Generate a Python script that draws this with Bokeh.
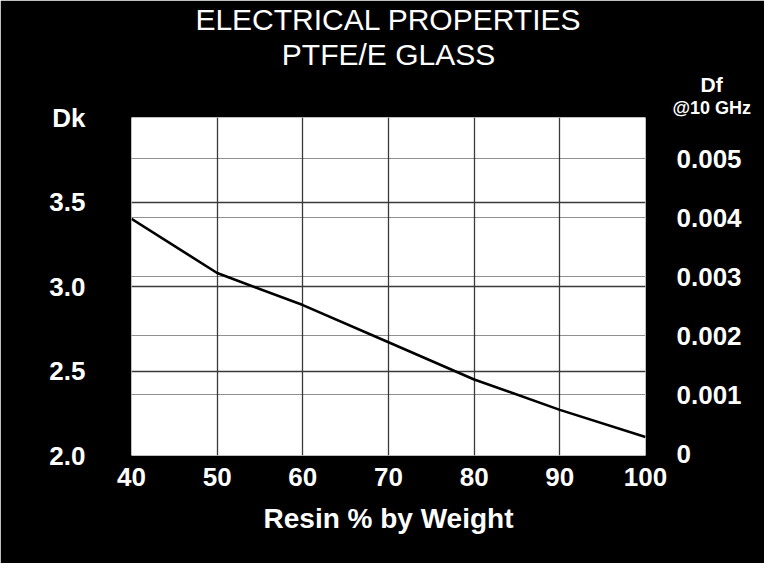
from bokeh.plotting import figure
from bokeh.models import (Range1d, FixedTicker, Grid, Title,
                          LinearAxis, CustomJSTickFormatter)
from bokeh.embed import file_html
from bokeh.resources import INLINE

# ---- data ----
resin = [40, 50, 60, 70, 80, 90, 100]
dk = [3.40, 3.08, 2.89, 2.67, 2.45, 2.27, 2.11]

x_ticks = [40, 50, 60, 70, 80, 90, 100]
dk_ticks = [2.0, 2.5, 3.0, 3.5]
df_ticks = [0.0, 0.001, 0.002, 0.003, 0.004, 0.005]

title1 = "ELECTRICAL PROPERTIES"
title2 = "PTFE/E GLASS"
xlabel = "Resin % by Weight"
dk_label = "Dk"
df_label = "Df"
df_freq = "@10 GHz"

W, H = 764, 563
BL, BR, BT, BB = 131, 119, 114, 108   # borders around the frame
X0, X1 = 40, 100
Y0, Y1 = 2.0, 4.0

p = figure(width=W, height=H, output_backend="svg", toolbar_location=None,
           x_range=Range1d(X0, X1), y_range=Range1d(Y0, Y1),
           min_border_left=BL, min_border_right=BR,
           min_border_top=BT, min_border_bottom=BB,
           background_fill_color="white", border_fill_color="black",
           outline_line_color=None, x_axis_location=None, y_axis_location=None)
p.extra_y_ranges = {"df": Range1d(-0.00003, 0.0057)}

# solid grids
p.xgrid.ticker = FixedTicker(ticks=[50, 60, 70, 80, 90])
p.ygrid.ticker = FixedTicker(ticks=[2.5, 3.0, 3.5])
for g in (p.xgrid, p.ygrid):
    g.grid_line_color = "#3a3a3a"
    g.grid_line_width = 1.3
    g.grid_line_alpha = 1.0

def style(ax, size="26px"):
    ax.axis_line_color = None
    ax.major_tick_line_color = None
    ax.minor_tick_line_color = None
    ax.major_tick_out = 0
    ax.major_tick_in = 0
    ax.major_label_text_color = "white"
    ax.major_label_text_font = "Liberation Sans"
    ax.major_label_text_font_style = "bold"
    ax.major_label_text_font_size = size
    ax.axis_label_text_color = "white"
    ax.axis_label_text_font = "Liberation Sans"
    ax.axis_label_text_font_style = "bold"
    ax.axis_label_text_font_size = size

# bottom axis
xax = LinearAxis(ticker=FixedTicker(ticks=x_ticks), axis_label=xlabel)
style(xax)
xax.axis_label_text_font_size = "28px"
xax.major_label_standoff = 12
xax.axis_label_standoff = 14
p.add_layout(xax, "below")

# left Dk axis; its top end carries the "Dk" heading
yax = LinearAxis(ticker=FixedTicker(ticks=dk_ticks + [Y1]),
                 formatter=CustomJSTickFormatter(
                     code="return tick >= %r ? %r : tick.toFixed(1);"
                          % (Y1, dk_label)))
style(yax)
yax.major_label_standoff = 46
p.add_layout(yax, "left")

# right Df axis
rax = LinearAxis(y_range_name="df", ticker=FixedTicker(ticks=df_ticks),
                 formatter=CustomJSTickFormatter(
                     code="return tick == 0 ? '0' : tick.toFixed(3);"))
style(rax)
rax.major_label_standoff = 31
p.add_layout(rax, "right")

# dotted Df grid
dgrid = Grid(dimension=1, y_range_name="df",
             ticker=FixedTicker(ticks=df_ticks[1:]),
             grid_line_color="#202020", grid_line_width=1.0,
             grid_line_dash="1 1")
p.add_layout(dgrid)

# the curve
p.line(resin, dk, line_color="black", line_width=2.6)

# headings above the frame (first added = nearest the frame)
def head(text, size, align="center", offset=0, style_="bold"):
    p.add_layout(Title(text=text, align=align, offset=offset, standoff=0,
                       text_color="white", text_font="Liberation Sans",
                       text_font_style=style_, text_font_size=size), "above")

head(df_freq, "18px", align="left", offset=672 - BL)
head(df_label, "21px", align="left", offset=700 - BL)
head(title2, "30px", style_="normal")
head(title1, "30px", style_="normal")

open("out.html", "w").write(file_html(p, INLINE))
